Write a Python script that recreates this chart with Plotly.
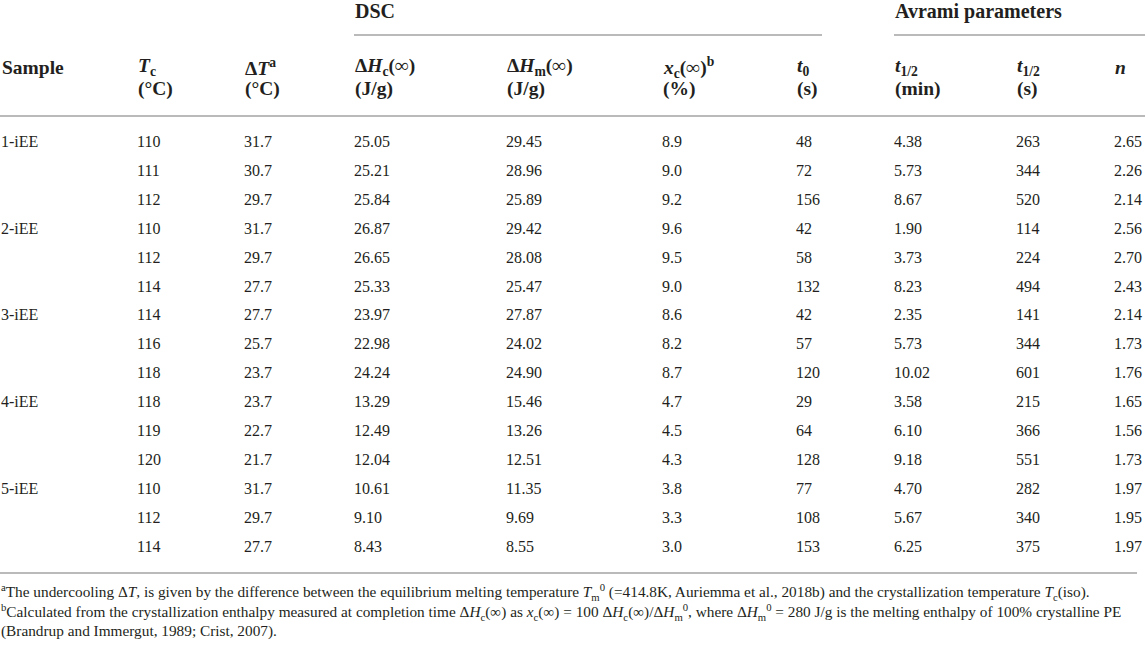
import plotly.graph_objects as go

# table values
samples = ["1-iEE", "", "", "2-iEE", "", "", "3-iEE", "", "", "4-iEE", "", "", "5-iEE", "", ""]
tc = [110, 111, 112, 110, 112, 114, 114, 116, 118, 118, 119, 120, 110, 112, 114]
delta_t = [31.7, 30.7, 29.7, 31.7, 29.7, 27.7, 27.7, 25.7, 23.7, 23.7, 22.7, 21.7, 31.7, 29.7, 27.7]
dh_c = [25.05, 25.21, 25.84, 26.87, 26.65, 25.33, 23.97, 22.98, 24.24, 13.29, 12.49, 12.04, 10.61, 9.10, 8.43]
dh_m = [29.45, 28.96, 25.89, 29.42, 28.08, 25.47, 27.87, 24.02, 24.90, 15.46, 13.26, 12.51, 11.35, 9.69, 8.55]
x_c = [8.9, 9.0, 9.2, 9.6, 9.5, 9.0, 8.6, 8.2, 8.7, 4.7, 4.5, 4.3, 3.8, 3.3, 3.0]
t_0 = [48, 72, 156, 42, 58, 132, 42, 57, 120, 29, 64, 128, 77, 108, 153]
t_half_min = [4.38, 5.73, 8.67, 1.90, 3.73, 8.23, 2.35, 5.73, 10.02, 3.58, 6.10, 9.18, 4.70, 5.67, 6.25]
t_half_s = [263, 344, 520, 114, 224, 494, 141, 344, 601, 215, 366, 551, 282, 340, 375]
n_avrami = [2.65, 2.26, 2.14, 2.56, 2.70, 2.43, 2.14, 1.73, 1.76, 1.65, 1.56, 1.73, 1.97, 1.95, 1.97]

header_top = ["<b>Sample</b>", "<b><i>T</i><sub>c</sub></b>", "<b>Δ<i>T</i><sup>a</sup></b>",
              "<b>Δ<i>H</i><sub>c</sub>(∞)</b>", "<b>Δ<i>H</i><sub>m</sub>(∞)</b>",
              "<b><i>x</i><sub>c</sub>(∞)<sup>b</sup></b>", "<b><i>t</i><sub>0</sub></b>",
              "<b><i>t</i><sub>1/2</sub></b>", "<b><i>t</i><sub>1/2</sub></b>", "<b><i>n</i></b>"]
header_units = ["", "<b>(°C)</b>", "<b>(°C)</b>", "<b>(J/g)</b>", "<b>(J/g)</b>", "<b>(%)</b>",
                "<b>(s)</b>", "<b>(min)</b>", "<b>(s)</b>", ""]
groups = ["<b>DSC</b>", "<b>Avrami parameters</b>"]
footnotes = [
    "<sup>a</sup>The undercooling Δ<i>T</i>, is given by the difference between the equilibrium melting "
    "temperature <i>T</i><sub>m</sub><sup>0</sup> (=414.8K, Auriemma et al., 2018b) and the crystallization "
    "temperature <i>T</i><sub>c</sub>(iso).",
    "<sup>b</sup>Calculated from the crystallization enthalpy measured at completion time "
    "Δ<i>H</i><sub>c</sub>(∞) as <i>x</i><sub>c</sub>(∞) = 100 Δ<i>H</i><sub>c</sub>(∞)/Δ<i>H</i><sub>m</sub><sup>0</sup>, "
    "where Δ<i>H</i><sub>m</sub><sup>0</sup> = 280 J/g is the melting enthalpy of 100% crystalline PE",
    "(Brandrup and Immergut, 1989; Crist, 2007).",
]

# layout of the table in pixel units
W, H = 1145, 647
col_x = [1, 137, 244, 354, 506, 662, 796, 894, 1016, 1114]
row_y0, row_step = 143, 28.9
FONT = "Liberation Serif"
INK = "#231f20"
RULE = "#a3a3a3"

columns = [
    samples,
    [str(v) for v in tc],
    [f"{v:.1f}" for v in delta_t],
    [f"{v:.2f}" for v in dh_c],
    [f"{v:.2f}" for v in dh_m],
    [f"{v:.1f}" for v in x_c],
    [str(v) for v in t_0],
    [f"{v:.2f}" for v in t_half_min],
    [str(v) for v in t_half_s],
    [f"{v:.2f}" for v in n_avrami],
]
row_y = [row_y0 + i * row_step for i in range(len(tc))]

fig = go.Figure()
for cx, vals in zip(col_x, columns):
    keep = [i for i, v in enumerate(vals) if v]
    fig.add_trace(go.Scatter(x=[cx] * len(keep), y=[row_y[i] for i in keep],
                             text=[vals[i] for i in keep], mode="text",
                             textposition="middle right", hoverinfo="skip", cliponaxis=False,
                             textfont=dict(family=FONT, size=16, color=INK)))

annotations = []


def label(x, y, text, size):
    annotations.append(dict(x=x, y=y, xref="x", yref="y", text=text, showarrow=False,
                            xanchor="left", yanchor="middle", align="left", borderpad=0,
                            font=dict(family=FONT, size=size, color=INK)))


for cx, top, unit in zip(col_x, header_top, header_units):
    label(cx, 67, top, 19.5)
    if unit:
        label(cx, 89, unit, 19.5)
label(col_x[3], 11, groups[0], 20)
label(col_x[7], 11, groups[1], 20)
for fy, note in zip([592, 612, 631], footnotes):
    label(0, fy, note, 15.3)

rules = [(col_x[3], 822, 35), (col_x[7], W, 35), (0, W, 116), (0, 1137, 573)]
shapes = [dict(type="line", xref="x", yref="y", x0=a, x1=b, y0=y, y1=y,
               line=dict(color=RULE, width=1.5)) for a, b, y in rules]

fig.update_layout(
    width=W, height=H, margin=dict(l=0, r=0, t=0, b=0),
    paper_bgcolor="white", plot_bgcolor="white", showlegend=False,
    xaxis=dict(range=[0, W], visible=False, fixedrange=True),
    yaxis=dict(range=[H, 0], visible=False, fixedrange=True),
    annotations=annotations, shapes=shapes,
)
# the page body has a default 8px margin; drop it so the figure fills the window
fig.write_html("out.html", config={"displayModeBar": False},
               post_script="document.body.style.margin = '0';")
